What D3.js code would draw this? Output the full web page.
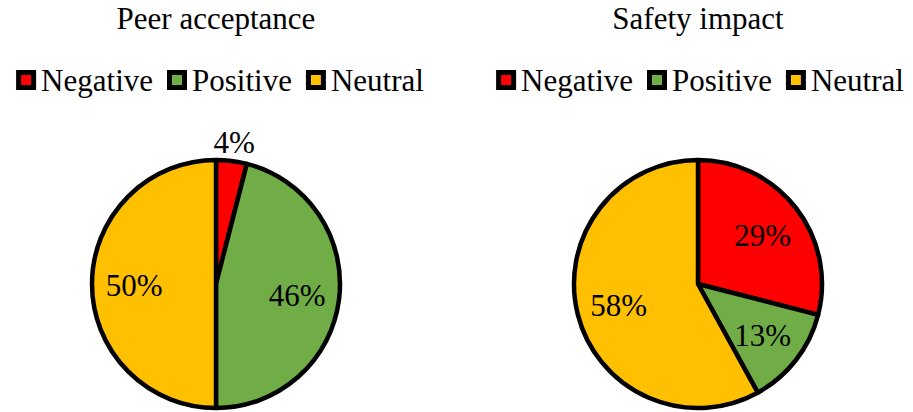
<!DOCTYPE html>
<html><head><meta charset="utf-8">
<script src="https://cdn.jsdelivr.net/npm/d3@7"></script>
<style>body{margin:0;background:#fff}svg{display:block}</style>
</head><body>
<svg id="chart" width="913" height="412"></svg>
<script>
const categories = ["Negative", "Positive", "Neutral"];
const chartTitles = ["Peer acceptance", "Safety impact"];
const peerValues = [4, 46, 50];
const safetyValues = [29, 13, 58];
const colors = ["#FF0000", "#70AD47", "#FFC000"];

const FONT = "'Liberation Serif', 'Times New Roman', Times, serif";
const svg = d3.select("#chart");
const panels = [
  {title: chartTitles[0], values: peerValues, cx: 216, cy: 284, legendCx: 220},
  {title: chartTitles[1], values: safetyValues, cx: 698, cy: 284, legendCx: 700}
];
const R = 124;
const fs = 31;
const color = d3.scaleOrdinal().domain(categories).range(colors);

panels.forEach(p => {
  const g = svg.append("g");
  g.append("text").attr("x", p.cx).attr("y", 29).attr("text-anchor", "middle")
    .attr("font-family", FONT).attr("font-size", 31).attr("fill", "#000").text(p.title);

  // legend
  const lg = g.append("g");
  let x = 0;
  categories.forEach((c, i) => {
    const it = lg.append("g").attr("transform", `translate(${x},0)`);
    it.append("rect").attr("x", 2.5).attr("y", -18.5).attr("width", 15).attr("height", 15)
      .attr("fill", color(c)).attr("stroke", "#000").attr("stroke-width", 5);
    const t = it.append("text").attr("x", 25).attr("y", 0)
      .attr("font-family", FONT).attr("font-size", fs).attr("fill", "#000").text(c);
    x += 25 + t.node().getComputedTextLength() + 14;
  });
  const w = x - 14;
  lg.attr("transform", `translate(${p.legendCx - w / 2},91)`);

  const pie = d3.pie().sort(null).value(d => d.v);
  const data = pie(categories.map((c, i) => ({c, v: p.values[i]})));
  const arc = d3.arc().innerRadius(0).outerRadius(R);
  const labelArc = d3.arc().innerRadius(R * 0.66).outerRadius(R * 0.66);
  const outArc = d3.arc().innerRadius(R + 20).outerRadius(R + 20);
  const pg = g.append("g").attr("transform", `translate(${p.cx},${p.cy})`);
  pg.selectAll("path").data(data).join("path")
    .attr("d", arc).attr("fill", d => color(d.data.c))
    .attr("stroke", "#000").attr("stroke-width", 4.5).attr("stroke-linejoin", "round");
  pg.selectAll("text").data(data).join("text")
    .attr("transform", d => {
      const [lx, ly] = (d.data.v < 5 ? outArc : labelArc).centroid(d);
      return `translate(${lx},${ly})`;
    })
    .attr("text-anchor", "middle").attr("dy", "0.38em")
    .attr("font-family", FONT).attr("font-size", fs).attr("fill", "#000")
    .text(d => d.data.v + "%");
});
</script>
</body></html>
